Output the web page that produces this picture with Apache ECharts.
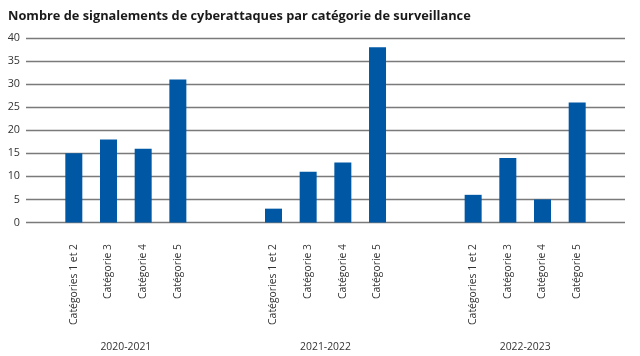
<!DOCTYPE html>
<html><head><meta charset="utf-8">
<script src="https://cdn.jsdelivr.net/npm/echarts@6/dist/echarts.min.js"></script>
<style>html,body{margin:0;padding:0;background:#fff}#c{width:640px;height:356px}</style>
</head><body><div id="c"></div>
<script>
const title = 'Nombre de signalements de cyberattaques par catégorie de surveillance';
const years = ['2020-2021', '2021-2022', '2022-2023'];
const categories = ['Catégories 1 et 2', 'Catégorie 3', 'Catégorie 4', 'Catégorie 5'];
const cat12 = [15, 3, 6];
const cat3 = [18, 11, 14];
const cat4 = [16, 13, 5];
const cat5 = [31, 38, 26];
const yTicks = [0, 5, 10, 15, 20, 25, 30, 35, 40];
const seriesValues = [cat12, cat3, cat4, cat5];

const FONT = '"Open Sans", "Noto Sans", sans-serif';
const chart = echarts.init(document.getElementById('c'));
chart.setOption({
  animation: false,
  title: { text: title, left: 3, top: 5,
    textStyle: { fontFamily: FONT, fontSize: 12.8, fontWeight: 'bold', color: '#1a1a1a' } },
  grid: { left: 26, right: 15, top: 38, bottom: 133.5, containLabel: false },
  xAxis: {
    type: 'category', data: years,
    axisLine: { show: false }, axisTick: { show: false },
    axisLabel: { margin: 120, fontFamily: FONT, fontSize: 10.4, color: '#333' }
  },
  yAxis: {
    type: 'value', min: yTicks[0], max: yTicks[yTicks.length - 1], interval: 5,
    axisLine: { show: false }, axisTick: { show: false },
    axisLabel: { margin: 6, fontFamily: FONT, fontSize: 10.8, color: '#333' },
    splitLine: { lineStyle: { color: '#7a7a7a', width: 1.3 } }
  },
  series: categories.map((name, i) => ({
    name, type: 'bar', data: seriesValues[i],
    barWidth: 17, barGap: '104%',
    itemStyle: { color: '#0058a5' },
    label: {
      show: true, position: 'bottom', distance: 21.5, rotate: 90,
      align: 'right', verticalAlign: 'middle',
      formatter: () => name,
      fontFamily: FONT, fontSize: 10.4, color: '#333'
    }
  }))
});
</script></body></html>
